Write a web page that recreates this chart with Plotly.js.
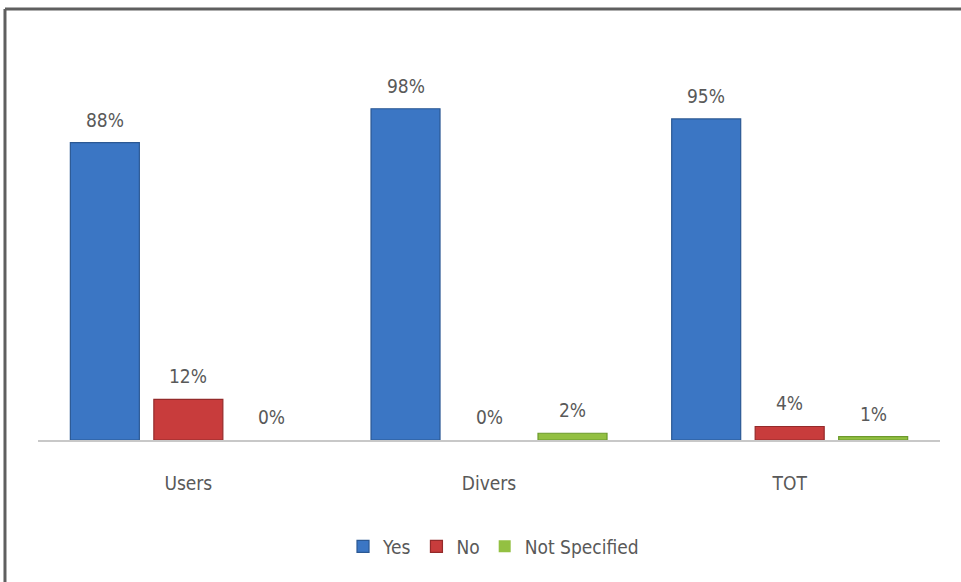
<!DOCTYPE html>
<html>
<head>
<meta charset="utf-8">
<script src="https://cdn.plot.ly/plotly-3.0.1.min.js"></script>
<style>html,body{margin:0;padding:0;background:#fff;}#chart{width:961px;height:582px;}</style>
</head>
<body>
<div id="chart"></div>
<script>
const categories = ["Users", "Divers", "TOT"];
const seriesNames = ["Yes", "No", "Not Specified"];
const yesValues = [88, 98, 95];
const noValues = [12, 0, 4];
const notSpecifiedValues = [0, 2, 1];

const seriesValues = [yesValues, noValues, notSpecifiedValues];
const fillColors = ["#3b76c4", "#c83c3c", "#93c042"];
const lineColors = ["#2b5893", "#942a2a", "#6c9a2c"];
const offsets = [-0.3924, -0.1147, 0.163];
const barWidth = 0.2295;
const xIdx = categories.map((c, i) => i);
const fontFam = "'DejaVu Sans Condensed', 'Liberation Sans Narrow', 'Liberation Sans', Arial, sans-serif";
const textGrey = "#595959";

const traces = seriesValues.map((vals, s) => ({
  type: "bar",
  name: seriesNames[s],
  x: xIdx,
  y: vals,
  offset: offsets[s],
  width: barWidth,
  marker: { color: fillColors[s], line: { color: lineColors[s], width: vals.map(v => v > 0 ? 1.2 : 0) } },
  hoverinfo: "none"
}));

const annotations = [];
seriesValues.forEach((vals, s) => {
  vals.forEach((v, i) => {
    annotations.push({
      x: i + offsets[s] + barWidth / 2,
      y: v,
      xref: "x", yref: "y",
      text: v + "%",
      showarrow: false,
      yanchor: "bottom",
      yshift: 10,
      font: { family: fontFam, size: 19, color: textGrey }
    });
  });
});

const layout = {
  width: 961, height: 582,
  margin: { l: 38, r: 21, t: 102, b: 142 },
  paper_bgcolor: "#ffffff",
  plot_bgcolor: "#ffffff",
  barmode: "overlay",
  showlegend: true,
  legend: {
    orientation: "h",
    x: 0.505, xanchor: "center",
    y: -0.315, yanchor: "middle",
    font: { family: fontFam, size: 19, color: textGrey },
    itemwidth: 30,
    tracegroupgap: 0
  },
  xaxis: {
    range: [-0.5, 2.5],
    tickmode: "array",
    tickvals: xIdx,
    ticktext: categories,
    showline: true,
    linecolor: "#c8c8c8",
    linewidth: 2,
    ticks: "outside",
    ticklen: 25,
    tickcolor: "rgba(0,0,0,0)",
    showgrid: false,
    zeroline: false,
    tickfont: { family: fontFam, size: 19, color: textGrey },
    fixedrange: true
  },
  yaxis: {
    range: [0, 100],
    visible: false,
    showgrid: false,
    zeroline: false,
    fixedrange: true
  },
  annotations: annotations,
  shapes: [
    { type: "line", xref: "paper", yref: "paper",
      x0: -0.0366, x1: 1.03, y0: 1.275, y1: 1.275,
      line: { color: "#5f5f5f", width: 3 } },
    { type: "line", xref: "paper", yref: "paper",
      x0: -0.0366, x1: -0.0366, y0: 1.275, y1: -0.45,
      line: { color: "#5f5f5f", width: 3 } }
  ]
};

Plotly.newPlot("chart", traces, layout, { staticPlot: true, displayModeBar: false });
</script>
</body>
</html>
